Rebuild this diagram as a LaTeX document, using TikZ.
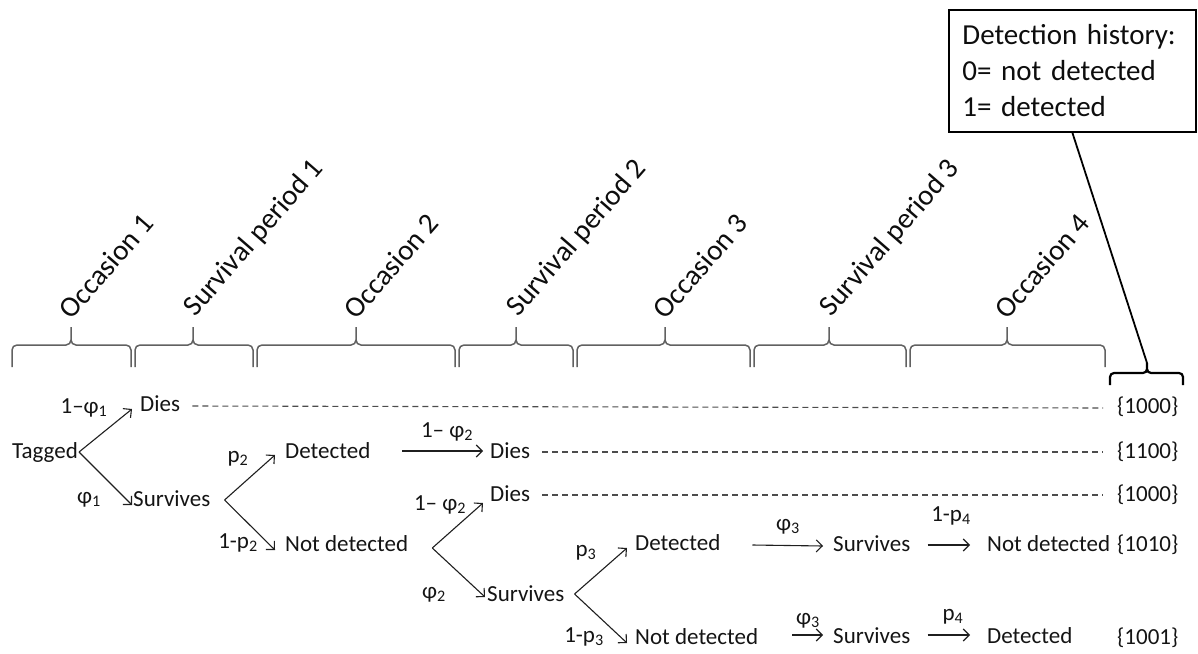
\documentclass[tikz,border=0pt]{standalone}
\usepackage{fontspec}
\setmainfont{Carlito}
\usetikzlibrary{arrows.meta,calc}
\begin{document}
\begin{tikzpicture}[x=1pt,y=-1pt,
  txt/.style={font=\fontsize{23}{27}\selectfont, inner sep=0pt, text height=16pt, text depth=3pt, text=black!92, anchor=west},
  lbl/.style={font=\fontsize{23}{27}\selectfont, inner sep=0pt, text=black!92, anchor=base},
  rot/.style={font=\fontsize{29}{33}\selectfont, inner sep=0pt, rotate=49, anchor=south west, text=black!95},
  arr/.style={-{Straight Barb[length=6pt,width=12pt]}, line width=1.1pt, draw=black!88},
  dsh/.style={dash pattern=on 6pt off 4pt, line width=1.1pt, draw=black!70},
  brc/.style={draw=black!62, line width=1.5pt, rounded corners=5pt},
  bbrc/.style={draw=black, line width=2.2pt, rounded corners=4pt},
]
\useasboundingbox (0,0) rectangle (1198,653);

% timeline braces
\foreach \l/\m/\r in {12/71/131, 135/193/253, 257/356/455, 459/516/573, 577/665/750, 754/829/906, 910/1007/1105} {
  \draw[brc] (\l,367) -- (\l,345) -- (\m,345) -- (\m,327) (\m,327) -- (\m,345) -- (\r,345) -- (\r,367);
}

% rotated period labels
\node[rot] (o1) at (72,321) {Occasion 1};
\node[rot] (s1) at (199,321) {Survival period 1};
\node[rot] (o2) at (357,321) {Occasion 2};
\node[rot] (s2) at (522,321) {Survival period 2};
\node[rot] (o3) at (666,321) {Occasion 3};
\node[rot] (s3) at (835,321) {Survival period 3};
\node[rot] (o4) at (1008,321) {Occasion 4};

% legend box and black brace
\node[draw=black, line width=1.8pt, anchor=north west, minimum width=247pt, minimum height=122pt,
      inner xsep=13pt, text width=220pt, align=left,
      font=\fontsize{29}{36}\selectfont, text=black!95] (box) at (948,9)
      {Detection history:\\0= not detected\\1= detected};
\draw[bbrc] (1110,385) -- (1110,373) -- (1147,373) -- (1147,363) (1147,363) -- (1147,373) -- (1183,373) -- (1183,385);
\coordinate (btip) at (1147,363);
\draw[line width=1.8pt] (box.south) -- (btip);

% tree nodes
\node[txt] (tagged) at (12,452) {Tagged};
\node[txt] (dies1) at (140,405) {Dies};
\node[txt] (surv1) at (133,500) {Survives};
\node[txt] (det2) at (285,452) {Detected};
\node[txt] (notdet2) at (285,545) {Not detected};
\node[txt] (dies2) at (490,452) {Dies};
\node[txt] (dies3) at (490,495) {Dies};
\node[txt] (surv2) at (487,595) {Survives};
\node[txt] (det3) at (635,544) {Detected};
\node[txt] (notdet3) at (635,638) {Not detected};
\node[txt] (surv3a) at (833,545) {Survives};
\node[txt] (surv3b) at (833,637) {Survives};
\node[txt] (notdet4) at (987,545) {Not detected};
\node[txt] (det4) at (987,637) {Detected};
\node[txt] (h1) at (1117,407) {\{1000\}};
\node[txt] (h2) at (1117,452) {\{1100\}};
\node[txt] (h3) at (1117,495) {\{1000\}};
\node[txt] (h4) at (1117,545) {\{1010\}};
\node[txt] (h5) at (1117,638) {\{1001\}};

% branch points
\coordinate (b0) at ($(tagged.east)+(1,0)$);
\coordinate (b1) at ($(surv1.east)+(14,0)$);
\coordinate (b2) at ($(notdet2.east)+(24,3)$);
\coordinate (b3) at ($(surv2.east)+(10,-1)$);

% arrows
\draw[arr] (b0) -- ($(dies1.west)+(-8,4)$);
\draw[arr] (b0) -- ($(surv1.west)+(-1,5)$);
\draw[arr] (b1) -- ($(det2.west)+(-10,3)$);
\draw[arr] (b1) -- ($(notdet2.west)+(-10,5)$);
\draw[arr] ($(det2.east)+(32,-1)$) -- ($(dies2.west)+(-7,-1)$);
\draw[arr] (b2) -- ($(dies3.west)+(-7,8)$);
\draw[arr] (b2) -- ($(surv2.west)+(-2,2)$);
\draw[arr] (b3) -- ($(det3.west)+(-8,4)$);
\draw[arr] (b3) -- ($(notdet3.west)+(-8,5)$);
\draw[arr] ($(det3.east)+(32,1)$) -- ($(surv3a.west)+(-10,1)$);
\draw[arr] ($(notdet3.east)+(34,-3)$) -- ($(surv3b.west)+(-10,-2)$);
\draw[arr] ($(surv3a.east)+(17,0)$) -- ($(notdet4.west)+(-17,0)$);
\draw[arr] ($(surv3b.east)+(17,-2)$) -- ($(det4.west)+(-17,-2)$);

% dashed lines
\draw[dsh] ($(dies1.east)+(12,1)$) -- ($(h1.west)+(-14,1)$);
\draw[dsh] ($(dies2.east)+(12,0)$) -- ($(h2.west)+(-14,0)$);
\draw[dsh] ($(dies3.east)+(12,0)$) -- ($(h3.west)+(-14,0)$);

% probability labels
\node[lbl] (l1) at (84,413) {1–φ\textsubscript{1}};
\node[lbl] (l2) at (89,503) {φ\textsubscript{1}};
\node[lbl] (l3) at (238,462) {p\textsubscript{2}};
\node[lbl] (l4) at (238,548) {1-p\textsubscript{2}};
\node[lbl] (l5) at (447,437) {1– φ\textsubscript{2}};
\node[lbl] (l6) at (440,510) {1– φ\textsubscript{2}};
\node[lbl] (l7) at (434,598) {φ\textsubscript{2}};
\node[lbl] (l8) at (586,556) {p\textsubscript{3}};
\node[lbl] (l9) at (584,642) {1-p\textsubscript{3}};
\node[lbl] (l10) at (788,530) {φ\textsubscript{3}};
\node[lbl] (l11) at (951,521) {1-p\textsubscript{4}};
\node[lbl] (l12) at (808,624) {φ\textsubscript{3}};
\node[lbl] (l13) at (953,620) {p\textsubscript{4}};
\end{tikzpicture}
\end{document}
